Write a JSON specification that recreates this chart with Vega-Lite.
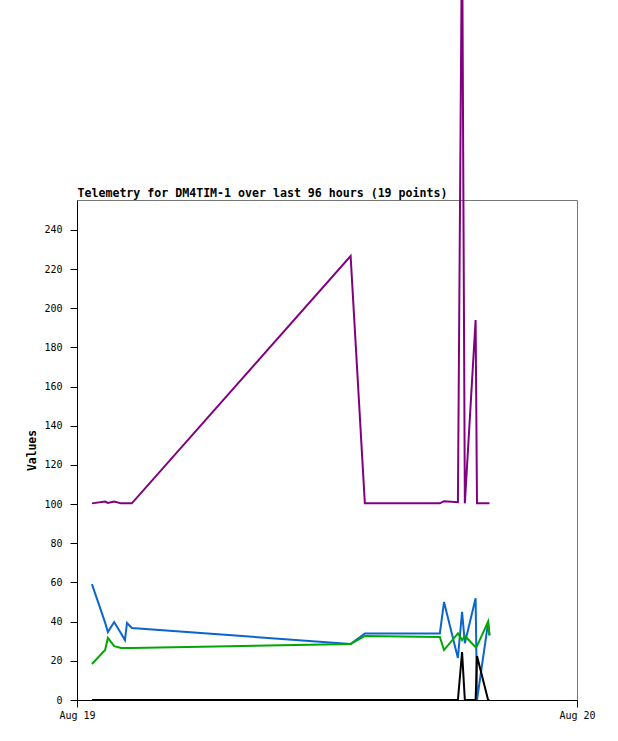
{
  "$schema": "https://vega.github.io/schema/vega-lite/v6.json",
  "autosize": {"type": "none"},
  "padding": {"left": 77, "top": 200, "right": 41, "bottom": 41},
  "width": 500,
  "height": 500,
  "background": "white",
  "config": {
    "view": {"stroke": "#777777", "strokeWidth": 1},
    "axis": {
      "labelFont": "DejaVu Sans Mono",
      "labelFontSize": 10,
      "labelColor": "black",
      "titleFont": "DejaVu Sans Mono",
      "titleFontSize": 11.4,
      "titleFontWeight": "bold",
      "titleColor": "black",
      "domainColor": "black",
      "tickColor": "black",
      "grid": false
    }
  },
  "data": {
    "values": [
      {"t": "2024-08-19T00:43:00", "ch1": 100.4, "ch2": 59.2, "ch3": 18.4, "ch4": 0},
      {"t": "2024-08-19T01:21:00", "ch1": 101.3, "ch2": 39.5, "ch3": 25.5, "ch4": 0},
      {"t": "2024-08-19T01:29:00", "ch1": 100.6, "ch2": 34.7, "ch3": 31.7, "ch4": 0},
      {"t": "2024-08-19T01:47:00", "ch1": 101.3, "ch2": 39.8, "ch3": 27.5, "ch4": 0},
      {"t": "2024-08-19T02:07:00", "ch1": 100.4, "ch2": 34.0, "ch3": 26.6, "ch4": 0},
      {"t": "2024-08-19T02:18:00", "ch1": 100.4, "ch2": 30.6, "ch3": 26.6, "ch4": 0},
      {"t": "2024-08-19T02:24:00", "ch1": 100.4, "ch2": 39.3, "ch3": 26.6, "ch4": 0},
      {"t": "2024-08-19T02:38:00", "ch1": 100.4, "ch2": 36.8, "ch3": 26.6, "ch4": 0},
      {"t": "2024-08-19T13:08:00", "ch1": 226.7, "ch2": 28.6, "ch3": 28.6, "ch4": 0},
      {"t": "2024-08-19T13:49:00", "ch1": 100.4, "ch2": 34.0, "ch3": 32.7, "ch4": 0},
      {"t": "2024-08-19T17:25:00", "ch1": 100.4, "ch2": 34.0, "ch3": 32.2, "ch4": 0},
      {"t": "2024-08-19T17:37:00", "ch1": 101.5, "ch2": 50.0, "ch3": 25.5, "ch4": 0},
      {"t": "2024-08-19T18:17:00", "ch1": 101.0, "ch2": 21.5, "ch3": 34.0, "ch4": 0},
      {"t": "2024-08-19T18:29:00", "ch1": 400.0, "ch2": 45.0, "ch3": 30.6, "ch4": 24.5},
      {"t": "2024-08-19T18:37:00", "ch1": 100.4, "ch2": 29.0, "ch3": 32.7, "ch4": 0},
      {"t": "2024-08-19T19:08:00", "ch1": 194.0, "ch2": 52.0, "ch3": 27.0, "ch4": 0},
      {"t": "2024-08-19T19:12:00", "ch1": 100.4, "ch2": 0, "ch3": 27.5, "ch4": 22.5},
      {"t": "2024-08-19T19:44:00", "ch1": 100.4, "ch2": 39.5, "ch3": 40.0, "ch4": 0},
      {"t": "2024-08-19T19:48:00", "ch1": 100.4, "ch2": 33.0, "ch3": 33.0, "ch4": 0}
    ]
  },
  "resolve": {"axis": {"x": "independent"}},
  "layer": [
    {
      "mark": {"type": "line", "color": "#800080", "strokeWidth": 2, "clip": false},
      "encoding": {
        "x": {
          "field": "t",
          "type": "temporal",
          "scale": {"domain": ["2024-08-19T00:00:00", "2024-08-20T00:00:00"], "nice": false},
          "axis": {
            "title": null,
            "values": [
              {"year": 2024, "month": 8, "date": 19},
              {"year": 2024, "month": 8, "date": 20}
            ],
            "format": "%b %d",
            "labelFlush": false,
            "labelOverlap": false,
            "tickSize": 7,
            "labelPadding": 3
          }
        },
        "y": {
          "field": "ch1",
          "type": "quantitative",
          "scale": {"domain": [0, 255.3], "nice": false, "zero": true},
          "axis": {
            "title": "Values",
            "values": [0, 20, 40, 60, 80, 100, 120, 140, 160, 180, 200, 220, 240],
            "tickSize": 7,
            "labelPadding": 8,
            "titleX": -40,
            "titleY": 250,
            "titleAngle": -90
          }
        }
      }
    },
    {
      "mark": {"type": "line", "color": "#0a66cc", "strokeWidth": 2, "clip": false},
      "encoding": {
        "x": {"field": "t", "type": "temporal", "axis": null},
        "y": {"field": "ch2", "type": "quantitative"}
      }
    },
    {
      "mark": {"type": "line", "color": "#00a800", "strokeWidth": 2, "clip": false},
      "encoding": {
        "x": {"field": "t", "type": "temporal", "axis": null},
        "y": {"field": "ch3", "type": "quantitative"}
      }
    },
    {
      "mark": {"type": "line", "color": "#000000", "strokeWidth": 2, "clip": false},
      "encoding": {
        "x": {
          "field": "t",
          "type": "temporal",
          "axis": {
            "orient": "top",
            "title": "Telemetry for DM4TIM-1 over last 96 hours (19 points)",
            "titleFontSize": 11.6,
            "domain": false,
            "ticks": false,
            "labels": false,
            "titleX": 0,
            "titleY": -4,
            "titleAlign": "left",
            "titleBaseline": "alphabetic",
            "titleAngle": 0
          }
        },
        "y": {"field": "ch4", "type": "quantitative"}
      }
    }
  ]
}
